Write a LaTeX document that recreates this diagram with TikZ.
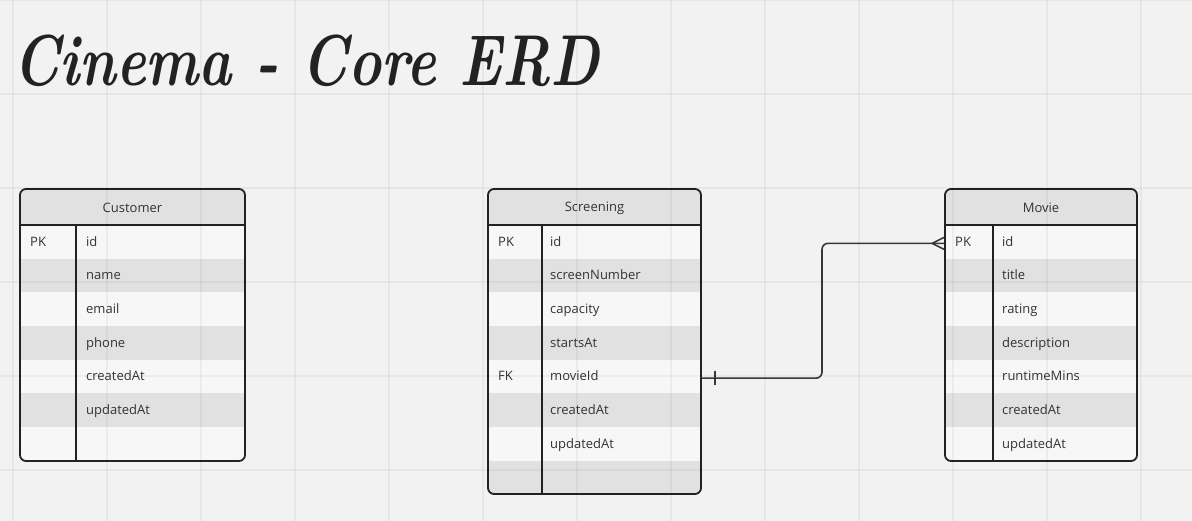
\documentclass[tikz,border=0pt]{standalone}
\usepackage{fontspec}
\newfontfamily\uifont{Open Sans}
\definecolor{bgc}{HTML}{F2F2F2}
\definecolor{rowlight}{HTML}{F7F7F7}
\definecolor{rowdark}{HTML}{E1E1E1}
\definecolor{inkc}{HTML}{222222}
\definecolor{textc}{HTML}{333333}
\tikzset{
  tblframe/.style={draw=inkc, line width=1.8pt, rounded corners=6pt, inner sep=0pt},
  tblline/.style={draw=inkc, line width=1.8pt},
  headtext/.style={text=textc, yshift=-1pt, font=\uifont\fontsize{13}{15}\selectfont},
  fieldtext/.style={anchor=west, inner sep=0pt, yshift=-1.5pt, text=textc, text height=1.6ex, text depth=.35ex,
    font=\uifont\fontsize{13}{15}\selectfont},
  rel/.style={draw=inkc!90, line width=1.6pt},
}
\begin{document}
\begin{tikzpicture}[x=1pt,y=-1pt]

  \useasboundingbox[fill=bgc] (0,0) rectangle (1192,521);

  % title
  \node[anchor=base west, inner sep=0pt, text=inkc, xscale=.78] (title) at (13,86)
    {\fontsize{72}{80}\selectfont\bfseries\itshape Cinema - Core ERD};

  % Customer
  \begin{scope}
    \clip[rounded corners=6pt] (20,189) rectangle (245,461);
    \fill[rowdark] (20,189) rectangle (245,225);
    \fill[rowlight] (20,225) rectangle (245,461);
    \foreach \i in {1,3,5}
      \fill[rowdark] (20,{225+33.7*\i}) rectangle (245,{225+33.7*(\i+1)});
  \end{scope}
  \node[tblframe, minimum width=225pt, minimum height=272pt] (cust) at (132.5,325) {};
  \draw[tblline] (20,225) -- (245,225);
  \draw[tblline] (76,225) -- (76,461);
  \node[headtext] (cust-head) at (132.5,207) {Customer};
  \node[fieldtext] (cust-pk) at (30,{225+33.7*0.5}) {PK};
  \foreach \f [count=\i] in {id,name,email,phone,createdAt,updatedAt}
    \node[fieldtext] (cust-\f) at (86,{225+33.7*(\i-0.5)}) {\f};

  % Screening
  \begin{scope}
    \clip[rounded corners=6pt] (488,189) rectangle (701,494);
    \fill[rowdark] (488,189) rectangle (701,225);
    \fill[rowlight] (488,225) rectangle (701,494);
    \foreach \i in {1,3,5,7}
      \fill[rowdark] (488,{225+33.7*\i}) rectangle (701,{225+33.7*(\i+1)});
  \end{scope}
  \node[tblframe, minimum width=213pt, minimum height=305pt] (scr) at (594.5,341.5) {};
  \draw[tblline] (488,225) -- (701,225);
  \draw[tblline] (542,225) -- (542,494);
  \node[headtext] (scr-head) at (594.5,207) {Screening};
  \node[fieldtext] (scr-pk) at (498,{225+33.7*0.5}) {PK};
  \node[fieldtext] (scr-fk) at (498,{225+33.7*4.5}) {FK};
  \foreach \f [count=\i] in {id,screenNumber,capacity,startsAt,movieId,createdAt,updatedAt}
    \node[fieldtext] (scr-\f) at (550,{225+33.7*(\i-0.5)}) {\f};

  % Movie
  \begin{scope}
    \clip[rounded corners=6pt] (945,189) rectangle (1137,461);
    \fill[rowdark] (945,189) rectangle (1137,225);
    \fill[rowlight] (945,225) rectangle (1137,461);
    \foreach \i in {1,3,5}
      \fill[rowdark] (945,{225+33.7*\i}) rectangle (1137,{225+33.7*(\i+1)});
  \end{scope}
  \node[tblframe, minimum width=192pt, minimum height=272pt] (mov) at (1041,325) {};
  \draw[tblline] (945,225) -- (1137,225);
  \draw[tblline] (993,225) -- (993,461);
  \node[headtext] (mov-head) at (1041,207) {Movie};
  \node[fieldtext] (mov-pk) at (955,{225+33.7*0.5}) {PK};
  \foreach \f [count=\i] in {id,title,rating,description,runtimeMins,createdAt,updatedAt}
    \node[fieldtext] (mov-\f) at (1002,{225+33.7*(\i-0.5)}) {\f};

  % relation Screening.movieId -> Movie.id
  \coordinate (bend) at (822,0);
  \draw[rel, rounded corners=6pt] (scr.east |- scr-movieId) -- (bend |- scr-movieId)
    -- (bend |- mov-id) -- (mov.west |- mov-id);
  \draw[rel] ([xshift=13pt]scr.east |- scr-movieId) ++(0,-7) -- ++(0,14);
  \draw[rel] (mov.west |- mov-id) ++(-12,0) -- ++(12,-6) ++(-12,6) -- ++(12,6);

  % grid
  \begin{scope}[draw=black, opacity=.045, line width=1.5pt]
    \foreach \gx in {0,...,12}
      \draw (13+94*\gx,0) -- (13+94*\gx,521);
    \foreach \gy in {0,...,5}
      \draw (0,94*\gy) -- (1192,94*\gy);
  \end{scope}

\end{tikzpicture}
\end{document}
